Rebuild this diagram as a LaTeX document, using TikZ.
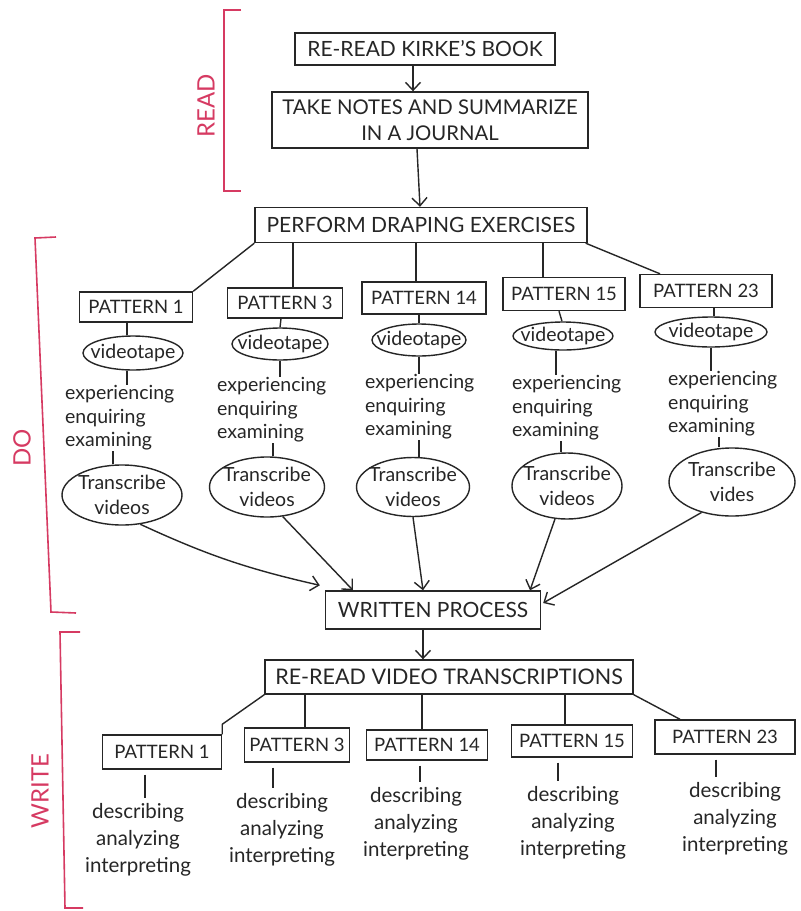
\documentclass[tikz,border=0pt]{standalone}
\usepackage{fontspec}
\setmainfont{Lato}
\usetikzlibrary{shapes.geometric,arrows.meta,calc}
\definecolor{ink}{RGB}{38,38,38}
\definecolor{redpen}{RGB}{214,58,98}
\begin{document}
\begin{tikzpicture}[x=1pt,y=-1pt,
  every node/.style={text=ink},
  hbox/.style={draw=ink,line width=1.4pt,inner sep=0pt,align=center,font=\fontsize{21}{26}\selectfont},
  pbox/.style={hbox,font=\fontsize{18.5}{20}\selectfont},
  oval/.style={ellipse,draw=ink,line width=1.4pt,inner sep=0pt},
  ovaltext/.style={align=center,inner sep=0pt,font=\fontsize{19.5}{25}\selectfont},
  tapetext/.style={inner sep=0pt,font=\fontsize{19.5}{22}\selectfont},
  words/.style={align=left,inner sep=0pt,font=\fontsize{19.5}{23.5}\selectfont},
  words2/.style={align=center,inner sep=0pt,font=\fontsize{20.5}{27}\selectfont},
  link/.style={draw=ink,line width=1.4pt},
  arr/.style={link,-{Straight Barb[length=8pt,width=15pt,line width=1.4pt]}},
  bracket/.style={draw=redpen,line width=1.6pt},
  side/.style={text=redpen,rotate=90,inner sep=0pt,font=\fontsize{24}{24}\selectfont}
]
\fill[white] (0,0) rectangle (801,911);
\useasboundingbox (0,0) rectangle (801,911);

% ---------- READ ----------
\node[hbox,minimum width=260,minimum height=32] (book) at (425,49) {RE-READ KIRKE’S BOOK};
\node[hbox,minimum width=316,minimum height=56,font=\fontsize{20.3}{26}\selectfont] (notes) at (430,120) {TAKE NOTES AND SUMMARIZE\\IN A JOURNAL};
\node[hbox,minimum width=332,minimum height=35] (drape) at (421,225) {PERFORM DRAPING EXERCISES};

\draw[arr] ([xshift=-12]book.south) -- ([xshift=-17]notes.north);
\draw[arr] ([xshift=-13]notes.south) -- ([xshift=-1]drape.north);

% ---------- DO : patterns ----------
\node[pbox,minimum width=113,minimum height=30] (a1) at (136,307) {PATTERN 1};
\node[pbox,minimum width=115,minimum height=30] (a3) at (285,303) {PATTERN 3};
\node[pbox,minimum width=124,minimum height=32] (a14) at (424,298) {PATTERN 14};
\node[pbox,minimum width=122,minimum height=33] (a15) at (564,294) {PATTERN 15};
\node[pbox,minimum width=132,minimum height=33] (a23) at (706,291) {PATTERN 23};

\coordinate (x3) at (293,0);
\coordinate (x14) at (416,0);
\coordinate (x15) at (543,0);
\draw[link] (drape.south west) -- (a1.north east);
\draw[link] (x3 |- drape.south) -- (x3 |- a3.north);
\draw[link] (x14 |- drape.south) -- (x14 |- a14.north);
\draw[link] (x15 |- drape.south) -- (x15 |- a15.north);
\draw[link] ([xshift=-2]drape.south east) -- ([xshift=-46]a23.north);

% videotape ovals
\node[oval,minimum width=100,minimum height=34] (v1) at (133,353) {};
\node[oval,minimum width=96,minimum height=32] (v3) at (280,344) {};
\node[oval,minimum width=94,minimum height=32] (v14) at (419,340) {};
\node[oval,minimum width=100,minimum height=28] (v15) at (563,336) {};
\node[oval,minimum width=112,minimum height=30] (v23) at (711,332) {};
\foreach \v in {v1,v3,v14,v15,v23}{\node[tapetext] at (\v) {videotape};}

\draw[link] ([xshift=-9]a1.south) -- ([xshift=-6]v1.north);
\draw[link] ([xshift=-4]a3.south) -- (v3.north);
\draw[link] ([xshift=-5]a14.south) -- ([xshift=0]v14.north);
\draw[link] ([xshift=-5]a15.south) -- ([xshift=-1]v15.north);
\draw[link] ([xshift=8]a23.south) -- ([xshift=3]v23.north);

% experiencing text
\node[words,anchor=west] (e1) at (65,418) {experiencing\\enquiring\\examining};
\node[words,anchor=west] (e3) at (217,410) {experiencing\\enquiring\\examining};
\node[words,anchor=west] (e14) at (365,407) {experiencing\\enquiring\\examining};
\node[words,anchor=west] (e15) at (512,408) {experiencing\\enquiring\\examining};
\node[words,anchor=west] (e23) at (668,404) {experiencing\\enquiring\\examining};

\draw[link] ([xshift=-6]v1.south) -- ([xshift=-6]v1.south |- e1.north);
\draw[link] (v3.south) -- (v3.south |- e3.north);
\draw[link] (v14.south) -- (v14.south |- e14.north);
\draw[link] ([xshift=-7]v15.south) -- ([xshift=-7]v15.south |- e15.north);
\draw[link] (v23.south) -- (v23.south |- e23.north);

% transcribe ovals
\node[oval,minimum width=120,minimum height=60] (t1) at (122,495) {};
\node[oval,minimum width=115,minimum height=60] (t3) at (267,487) {};
\node[oval,minimum width=113,minimum height=59] (t14) at (413,487) {};
\node[oval,minimum width=110,minimum height=66] (t15) at (567,486) {};
\node[oval,minimum width=126,minimum height=68] (t23) at (732,482) {};
\node[ovaltext] at (t1) {Transcribe\\videos};
\node[ovaltext] at (t3) {Transcribe\\videos};
\node[ovaltext] at (t14) {Transcribe\\videos};
\node[ovaltext] at (t15) {Transcribe\\videos};
\node[ovaltext] at (t23) {Transcribe\\vides};

\draw[link] ([xshift=-9]t1.north) -- ([xshift=-9]t1.north |- e1.south);
\draw[link] ([xshift=6]t3.north) -- ([xshift=6]t3.north |- e3.south);
\draw[link] ([xshift=6]t14.north) -- ([xshift=6]t14.north |- e14.south);
\draw[link] ([xshift=-6]t15.north) -- ([xshift=-6]t15.north |- e15.south);
\draw[link] ([xshift=-13]t23.north) -- ([xshift=-13]t23.north |- e23.south);

% ---------- WRITTEN PROCESS ----------
\node[hbox,minimum width=215,minimum height=38] (wp) at (433,610) {WRITTEN PROCESS};

\draw[arr] (t1.-58) to[bend right=6] ([xshift=-5,yshift=5]wp.north west);
\draw[arr] (t3.-62) -- ([xshift=-80]wp.north);
\draw[arr] (t14.south) -- ([xshift=-10]wp.north);
\draw[arr] (t15.-110) -- ([xshift=97]wp.north);
\draw[arr] (t23.-135) -- ([xshift=2,yshift=7]wp.east);

% ---------- WRITE ----------
\node[hbox,minimum width=368,minimum height=34,font=\fontsize{21.5}{26}\selectfont] (rv) at (449,677) {RE-READ VIDEO TRANSCRIPTIONS};
\draw[arr] ([xshift=-10]wp.south) -- ([xshift=-26]rv.north);

\node[pbox,minimum width=119,minimum height=34] (b1) at (162,752) {PATTERN 1};
\node[pbox,minimum width=105,minimum height=34] (b3) at (297,745) {PATTERN 3};
\node[pbox,minimum width=121,minimum height=30] (b14) at (427,745) {PATTERN 14};
\node[pbox,minimum width=121,minimum height=32] (b15) at (572,741) {PATTERN 15};
\node[pbox,minimum width=140,minimum height=34] (b23) at (725,737) {PATTERN 23};

\coordinate (y3) at (305,0);
\coordinate (y14) at (422,0);
\coordinate (y15) at (565,0);
\draw[link] (rv.south west) -- ([yshift=10]b1.north east) -- (b1.north east);
\draw[link] (y3 |- rv.south) -- (y3 |- b3.north);
\draw[link] (y14 |- rv.south) -- (y14 |- b14.north);
\draw[link] (y15 |- rv.south) -- (y15 |- b15.north);
\draw[link] (rv.south east) -- ([xshift=-45]b23.north);

\node[words2] (d1) at (138,840) {describing\\analyzing\\interpreting};
\node[words2] (d3) at (282,830) {describing\\analyzing\\interpreting};
\node[words2] (d14) at (416,824) {describing\\analyzing\\interpreting};
\node[words2] (d15) at (573,823) {describing\\analyzing\\interpreting};
\node[words2] (d23) at (735,819) {describing\\analyzing\\interpreting};

\coordinate (k1) at (145,0);
\coordinate (k3) at (273,0);
\coordinate (k14) at (420,0);
\coordinate (k15) at (558,0);
\coordinate (k23) at (716,0);
\foreach \k/\b/\d in {k1/b1/d1,k3/b3/d3,k14/b14/d14,k15/b15/d15,k23/b23/d23}{
  \draw[link] ($(\k |- \b.south)+(0,5)$) -- ($(\k |- \d.north)+(0,-5)$);
}

% ---------- red brackets ----------
\draw[bracket] (241,10) -- (224,10) -- (224,191) -- (241,191);
\node[side] (lread) at (206,106) {READ};
\draw[bracket] (56,237) -- (35,238) -- (51,612) -- (76,613);
\node[side] (ldo) at (22,448) {DO};
\draw[bracket] (80,632) -- (60,632) -- (65,908) -- (83,908);
\node[side] (lwrite) at (40,791) {WRITE};
\end{tikzpicture}
\end{document}
